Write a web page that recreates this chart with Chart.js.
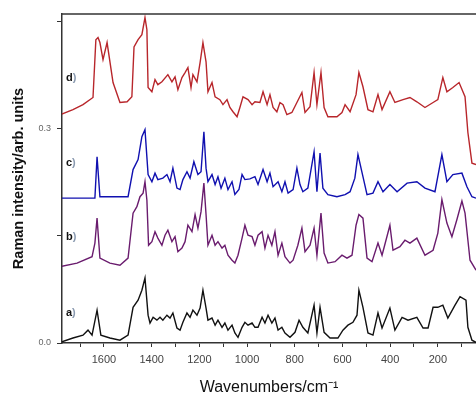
<!DOCTYPE html>
<html>
<head>
<meta charset="utf-8">
<title>Raman spectra</title>
<script src="https://cdn.jsdelivr.net/npm/chart.js@4.4.1/dist/chart.umd.min.js"></script>
<style>
    html, body { margin: 0; padding: 0; background: #fff; }
    #wrap { width: 476px; height: 400px; }
</style>
</head>
<body>
<div id="wrap"><canvas id="ramanChart" width="476" height="400"></canvas></div>
<script>
// Raman spectra (stacked), wavenumber axis reversed

// a) black trace
const waveA = [1784,1730,1688,1667,1650,1629,1613,1575,1533,1499,1478,1457,1441,1428,1415,1407,1394,1378,1365,1353,1336,1323,1311,1294,1281,1269,1252,1239,1227,1210,1197,1185,1172,1164,1147,1134,1122,1105,1093,1080,1063,1051,1038,1021,1009,996,979,967,954,937,925,912,896,883,870,854,841,820,799,782,766,745,719,707,694,677,652,619,598,577,556,539,531,514,493,472,451,434,401,380,350,325,288,262,241,220,200,179,158,128,107,82,74,57,40];
const intensA = [0.001,0.007,0.011,0.018,0.011,0.046,0.011,0.007,0.004,0.011,0.050,0.060,0.074,0.091,0.039,0.028,0.036,0.032,0.036,0.032,0.039,0.035,0.042,0.021,0.018,0.029,0.042,0.036,0.046,0.039,0.049,0.074,0.049,0.032,0.035,0.025,0.032,0.022,0.028,0.018,0.025,0.014,0.008,0.022,0.029,0.025,0.028,0.022,0.022,0.036,0.028,0.039,0.028,0.035,0.018,0.022,0.014,0.008,0.015,0.032,0.022,0.014,0.053,0.014,0.050,0.015,0.007,0.007,0.018,0.025,0.029,0.039,0.074,0.050,0.014,0.011,0.042,0.021,0.049,0.018,0.036,0.032,0.036,0.021,0.021,0.050,0.050,0.053,0.035,0.053,0.065,0.060,0.022,0.004,0.001];

// b) purple trace
const waveB = [1784,1713,1650,1638,1629,1617,1575,1533,1499,1478,1462,1449,1436,1428,1420,1413,1399,1386,1374,1357,1344,1332,1315,1302,1290,1273,1260,1248,1231,1218,1206,1193,1181,1172,1164,1147,1134,1122,1105,1093,1080,1063,1051,1038,1021,1009,996,979,967,954,937,925,912,896,883,870,854,841,820,807,787,770,757,736,719,707,690,677,661,631,602,581,560,543,531,514,497,476,451,434,401,388,359,338,317,288,254,220,200,183,162,141,120,99,86,65,40];
const intensB = [0.107,0.112,0.121,0.140,0.175,0.119,0.112,0.109,0.119,0.182,0.191,0.205,0.210,0.226,0.200,0.137,0.142,0.156,0.147,0.137,0.151,0.158,0.142,0.149,0.128,0.133,0.142,0.165,0.156,0.180,0.161,0.184,0.224,0.180,0.137,0.151,0.137,0.142,0.133,0.137,0.123,0.116,0.112,0.123,0.147,0.165,0.151,0.149,0.137,0.151,0.156,0.133,0.151,0.137,0.156,0.123,0.140,0.121,0.112,0.116,0.137,0.161,0.128,0.137,0.161,0.123,0.182,0.126,0.112,0.114,0.123,0.119,0.123,0.165,0.180,0.175,0.119,0.114,0.140,0.123,0.165,0.130,0.135,0.144,0.140,0.147,0.123,0.130,0.154,0.201,0.168,0.149,0.173,0.199,0.182,0.116,0.102];

// c) blue trace
const waveC = [1784,1638,1629,1617,1499,1478,1457,1441,1428,1415,1399,1386,1374,1353,1336,1323,1311,1294,1281,1269,1252,1239,1223,1206,1193,1181,1172,1164,1147,1134,1122,1109,1093,1080,1063,1051,1034,1021,1009,988,967,954,933,916,904,891,870,854,841,828,807,791,778,766,745,719,707,694,682,661,623,589,568,548,535,514,497,472,451,430,401,371,329,288,254,212,183,162,137,99,78,57,40];
const intensC = [0.203,0.203,0.261,0.205,0.205,0.243,0.257,0.289,0.299,0.236,0.226,0.238,0.229,0.231,0.236,0.226,0.245,0.217,0.215,0.229,0.240,0.231,0.254,0.236,0.240,0.296,0.245,0.226,0.236,0.222,0.233,0.217,0.231,0.215,0.226,0.208,0.215,0.236,0.229,0.230,0.233,0.222,0.243,0.226,0.238,0.219,0.226,0.212,0.226,0.210,0.215,0.245,0.222,0.212,0.217,0.268,0.212,0.266,0.217,0.208,0.205,0.208,0.212,0.231,0.264,0.233,0.208,0.210,0.226,0.212,0.222,0.212,0.224,0.226,0.217,0.212,0.264,0.226,0.236,0.238,0.219,0.205,0.203];

// d) red trace
const waveD = [1784,1730,1688,1646,1634,1625,1617,1604,1587,1562,1533,1503,1483,1474,1457,1441,1428,1420,1415,1399,1386,1374,1357,1332,1315,1302,1290,1273,1260,1248,1235,1227,1210,1197,1185,1172,1164,1147,1134,1114,1101,1084,1072,1059,1042,1030,1017,996,979,967,946,933,916,904,891,875,862,849,833,812,791,770,757,736,719,707,690,677,661,623,602,589,568,543,531,514,493,472,451,434,401,380,346,317,288,254,220,200,179,162,137,111,86,74,57,40];
const intensD = [0.320,0.327,0.334,0.344,0.425,0.428,0.421,0.397,0.421,0.365,0.337,0.338,0.345,0.415,0.425,0.432,0.456,0.439,0.358,0.352,0.369,0.362,0.366,0.376,0.366,0.373,0.355,0.372,0.379,0.386,0.358,0.376,0.366,0.393,0.421,0.394,0.352,0.365,0.345,0.341,0.334,0.341,0.330,0.324,0.317,0.330,0.345,0.341,0.334,0.338,0.337,0.352,0.334,0.348,0.330,0.324,0.337,0.334,0.320,0.323,0.337,0.351,0.323,0.331,0.379,0.334,0.379,0.330,0.317,0.317,0.323,0.334,0.324,0.348,0.379,0.359,0.327,0.324,0.348,0.327,0.352,0.337,0.341,0.344,0.338,0.330,0.337,0.341,0.372,0.352,0.358,0.365,0.345,0.295,0.252,0.250];

// Axis ticks
const xTickValues = [1700,1600,1500,1400,1300,1200,1100,1000,900,800,700,600,500,400,300,200,100];
const xTickLabels = [1600,1400,1200,1000,800,600,400,200];
const yTickValues = [0, 0.15, 0.3, 0.45];
const yTickLabels = [0, 0.3];

// Trace names shown inside the plot
const traceNames = ["a)", "b)", "c)", "d)"];

const FONT = "'Liberation Sans', Arial, sans-serif";

function toPoints(xs, ys) {
    return xs.map((x, i) => ({ x: x, y: ys[i] }));
}

// Top border line + trace letters
const framePlugin = {
    id: "frame",
    afterDraw(chart) {
        const { ctx, chartArea } = chart;
        ctx.save();
        ctx.strokeStyle = "#333";
        ctx.lineWidth = 1.5;
        ctx.beginPath();
        ctx.moveTo(chartArea.left, chartArea.top);
        ctx.lineTo(chartArea.right, chartArea.top);
        ctx.stroke();

        // letter labels, placed by value level
        const levels = [0.042, 0.149, 0.252, 0.372];
        const yScale = chart.scales.y;
        ctx.font = "bold 11px " + FONT;
        ctx.textBaseline = "middle";
        traceNames.forEach((name, i) => {
            const y = yScale.getPixelForValue(levels[i]);
            const x = chartArea.left + 4;
            ctx.fillStyle = "#111";
            ctx.fillText(name[0], x, y);
            const w = ctx.measureText(name[0]).width;
            ctx.fillStyle = "#8a9ab0";
            ctx.fillText(")", x + w, y);
        });
        ctx.restore();
    }
};

const lineStyle = {
    borderWidth: 1.4,
    pointRadius: 0,
    tension: 0,
    fill: false
};

new Chart(document.getElementById("ramanChart"), {
    type: "line",
    data: {
        datasets: [
            { label: "d", data: toPoints(waveD, intensD), borderColor: "#b8262b", ...lineStyle },
            { label: "c", data: toPoints(waveC, intensC), borderColor: "#1010b0", ...lineStyle },
            { label: "b", data: toPoints(waveB, intensB), borderColor: "#6a1c6e", ...lineStyle },
            { label: "a", data: toPoints(waveA, intensA), borderColor: "#111111", ...lineStyle }
        ]
    },
    options: {
        responsive: false,
        animation: false,
        devicePixelRatio: 1,
        layout: { padding: { top: 14, right: 0, left: 0, bottom: 0 } },
        plugins: {
            legend: { display: false },
            tooltip: { enabled: false }
        },
        scales: {
            x: {
                type: "linear",
                reverse: true,
                min: 40,
                max: 1776,
                afterBuildTicks: (scale) => {
                    scale.ticks = xTickValues.map(v => ({ value: v }));
                },
                afterFit: (scale) => { scale.height = 57; },
                grid: {
                    drawOnChartArea: false,
                    drawTicks: true,
                    tickLength: 4,
                    color: "#333",
                    lineWidth: 1
                },
                border: { display: true, color: "#333", width: 1.5 },
                ticks: {
                    autoSkip: false,
                    maxRotation: 0,
                    padding: 6,
                    color: "#444",
                    font: { family: FONT, size: 11 },
                    callback: (v) => xTickLabels.includes(v) ? String(v) : ""
                },
                title: {
                    display: true,
                    text: "Wavenumbers/cm\u207B\u00B9",
                    color: "#111",
                    font: { family: FONT, size: 16 },
                    padding: { top: 0, bottom: 3 }
                }
            },
            y: {
                min: 0,
                max: 0.461,
                afterBuildTicks: (scale) => {
                    scale.ticks = yTickValues.map(v => ({ value: v }));
                },
                afterFit: (scale) => { scale.width = 62; },
                grid: {
                    drawOnChartArea: false,
                    drawTicks: true,
                    tickLength: 5,
                    color: "#333",
                    lineWidth: 1
                },
                border: { display: true, color: "#333", width: 1.5 },
                ticks: {
                    padding: 6,
                    color: "#666",
                    font: { family: FONT, size: 9 },
                    callback: (v) => yTickLabels.includes(v) ? v.toFixed(1) : ""
                },
                title: {
                    display: true,
                    text: "Raman intensity/arb. units",
                    color: "#111",
                    font: { family: FONT, size: 14.5, weight: "bold" },
                    padding: { top: 10, bottom: 0 }
                }
            }
        }
    },
    plugins: [framePlugin]
});
</script>
</body>
</html>
